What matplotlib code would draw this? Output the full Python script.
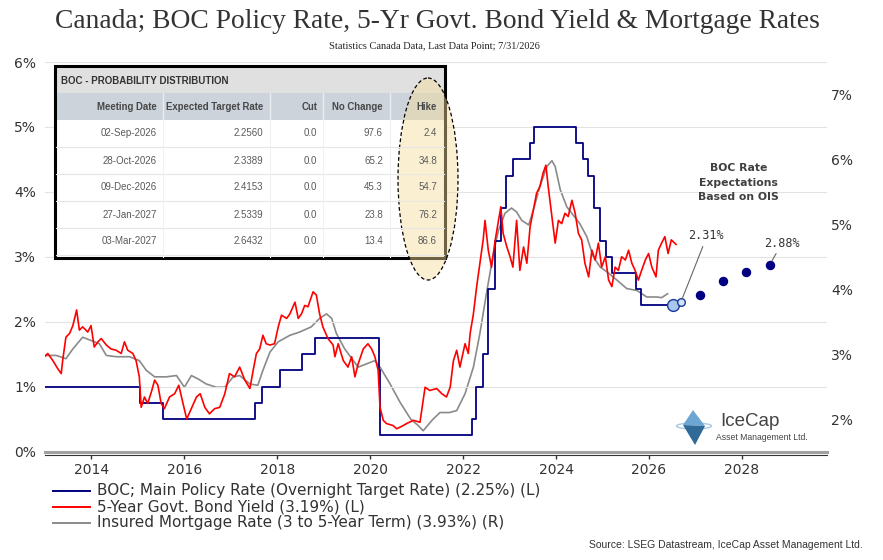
import matplotlib
matplotlib.use('Agg')
import matplotlib.pyplot as plt
from matplotlib.patches import Rectangle, Ellipse, Polygon

plt.rcParams['font.family'] = ['DejaVu Sans']

# BOC overnight target rate (step changes)
boc_t = [2013.0, 2015.05, 2015.54, 2017.53, 2017.68, 2018.05, 2018.53, 2018.82,
         2020.18, 2020.2, 2020.22, 2022.18, 2022.28, 2022.42, 2022.54, 2022.68,
         2022.82, 2022.93, 2023.07, 2023.43, 2023.53, 2024.43, 2024.57, 2024.68,
         2024.82, 2024.95, 2025.08, 2025.2, 2025.71, 2025.83, 2026.55]
boc_r = [1.0, 0.75, 0.5, 0.75, 1.0, 1.25, 1.5, 1.75,
         1.25, 0.75, 0.25, 0.5, 1.0, 1.5, 2.5, 3.25,
         3.75, 4.25, 4.5, 4.75, 5.0, 4.75, 4.5, 4.25,
         3.75, 3.25, 3.0, 2.75, 2.5, 2.25, 2.25]

# 5-year Govt. bond yield (left axis)
bond_t = [2012.99, 2013.06, 2013.17, 2013.27, 2013.35, 2013.38, 2013.45, 2013.53, 2013.6, 2013.68,
          2013.74, 2013.81, 2013.92, 2013.99, 2014.06, 2014.14, 2014.21, 2014.32, 2014.42, 2014.53,
          2014.64, 2014.71, 2014.78, 2014.89, 2014.96, 2015.03, 2015.07, 2015.14, 2015.21, 2015.29,
          2015.36, 2015.43, 2015.5, 2015.57, 2015.68, 2015.79, 2015.88, 2015.97, 2016.05, 2016.15,
          2016.26, 2016.34, 2016.44, 2016.54, 2016.65, 2016.76, 2016.87, 2016.97, 2017.08, 2017.19,
          2017.3, 2017.41, 2017.48, 2017.55, 2017.62, 2017.69, 2017.76, 2017.84, 2017.94, 2018.02,
          2018.09, 2018.2, 2018.27, 2018.38, 2018.45, 2018.52, 2018.59, 2018.66, 2018.77, 2018.84,
          2018.91, 2018.98, 2019.09, 2019.2, 2019.24, 2019.31, 2019.42, 2019.52, 2019.6, 2019.67,
          2019.74, 2019.85, 2019.95, 2020.03, 2020.1, 2020.17, 2020.21, 2020.28, 2020.35, 2020.49,
          2020.57, 2020.71, 2020.78, 2020.93, 2021.07, 2021.18, 2021.28, 2021.43, 2021.54, 2021.64,
          2021.72, 2021.79, 2021.86, 2021.93, 2022.04, 2022.11, 2022.15, 2022.22, 2022.29, 2022.36,
          2022.43, 2022.47, 2022.54, 2022.61, 2022.69, 2022.76, 2022.81, 2022.86, 2022.94, 2023.01,
          2023.07, 2023.15, 2023.22, 2023.3, 2023.37, 2023.44, 2023.51, 2023.58, 2023.65, 2023.72,
          2023.78, 2023.83, 2023.91, 2023.98, 2024.05, 2024.12, 2024.19, 2024.26, 2024.34, 2024.41,
          2024.48, 2024.55, 2024.62, 2024.7, 2024.77, 2024.84, 2024.91, 2024.98, 2025.06, 2025.13,
          2025.2, 2025.27, 2025.34, 2025.41, 2025.49, 2025.56, 2025.63, 2025.7, 2025.77, 2025.84,
          2025.92, 2025.99, 2026.06, 2026.15, 2026.2, 2026.27, 2026.34, 2026.41, 2026.48, 2026.55,
          2026.58]
bond_v = [1.46, 1.51, 1.40, 1.28, 1.20, 1.40, 1.76, 1.82, 1.94, 2.18,
          1.87, 1.92, 1.84, 1.94, 1.61, 1.69, 1.74, 1.64, 1.58, 1.56,
          1.51, 1.69, 1.56, 1.51, 1.40, 1.15, 0.68, 0.84, 0.74, 0.92,
          1.10, 1.02, 0.74, 0.66, 0.84, 0.89, 1.02, 0.74, 0.50, 0.66,
          0.84, 0.89, 0.68, 0.58, 0.66, 0.68, 0.89, 1.20, 1.15, 1.30,
          1.10, 0.97, 1.25, 1.51, 1.58, 1.79, 1.66, 1.64, 1.66, 1.92,
          2.10, 2.05, 2.12, 2.30, 2.05, 2.12, 2.25, 2.23, 2.46, 2.41,
          2.12, 1.92, 1.74, 1.64, 1.46, 1.66, 1.40, 1.30, 1.46, 1.15,
          1.35, 1.58, 1.66, 1.58, 1.46, 1.25, 0.68, 0.48, 0.43, 0.40,
          0.35, 0.40, 0.43, 0.48, 0.45, 0.99, 0.94, 0.97, 0.89, 0.84,
          0.99, 1.40, 1.56, 1.30, 1.66, 1.51, 1.82, 2.12, 2.54, 2.90,
          3.26, 3.56, 3.10, 2.84, 3.26, 3.56, 3.77, 3.36, 3.15, 3.00,
          2.84, 3.56, 2.79, 3.15, 2.90, 3.46, 3.72, 3.98, 4.08, 4.29,
          4.41, 4.08, 3.62, 3.21, 3.56, 3.51, 3.67, 3.62, 3.87, 3.67,
          3.36, 3.26, 2.90, 2.69, 3.10, 2.95, 3.21, 2.84, 3.00, 2.64,
          2.54, 2.84, 2.79, 3.00, 2.95, 3.10, 2.90, 2.79, 2.64, 2.79,
          2.95, 3.05, 2.84, 2.69, 3.10, 3.21, 3.31, 3.05, 3.26, 3.21,
          3.19]

# insured mortgage rate, 3 to 5-year term (right axis)
mort_t = [2012.99, 2013.24, 2013.45, 2013.6, 2013.81, 2013.99, 2014.17, 2014.32, 2014.53, 2014.82,
          2015.03, 2015.18, 2015.36, 2015.61, 2015.83, 2016.0, 2016.15, 2016.29, 2016.47, 2016.69,
          2016.87, 2017.05, 2017.19, 2017.41, 2017.58, 2017.69, 2017.84, 2018.02, 2018.27, 2018.48,
          2018.73, 2018.91, 2019.06, 2019.17, 2019.27, 2019.45, 2019.74, 2019.92, 2020.1, 2020.21,
          2020.42, 2020.64, 2020.87, 2021.03, 2021.14, 2021.34, 2021.5, 2021.7, 2021.86, 2022.04,
          2022.22, 2022.36, 2022.5, 2022.65, 2022.76, 2022.9, 2023.04, 2023.15, 2023.26, 2023.41,
          2023.51, 2023.65, 2023.8, 2023.91, 2023.98, 2024.09, 2024.23, 2024.37, 2024.51, 2024.66,
          2024.8, 2024.95, 2025.09, 2025.31, 2025.52, 2025.74, 2025.95, 2026.17, 2026.27, 2026.4]
mort_v = [2.98, 2.98, 2.93, 3.08, 3.26, 3.21, 3.16, 2.98, 2.96, 2.96,
          2.90, 2.75, 2.65, 2.65, 2.67, 2.49, 2.67, 2.62, 2.54, 2.49,
          2.49, 2.65, 2.67, 2.54, 2.52, 2.75, 3.03, 3.19, 3.29, 3.34,
          3.42, 3.55, 3.62, 3.55, 3.32, 3.08, 2.80, 2.85, 2.90, 2.80,
          2.55, 2.26, 2.00, 1.90, 1.82, 1.99, 2.10, 2.10, 2.13, 2.39,
          2.80, 3.32, 3.93, 4.55, 4.91, 5.17, 5.25, 5.19, 5.06, 4.99,
          5.22, 5.58, 5.89, 5.98, 5.89, 5.53, 5.27, 5.14, 5.01, 4.81,
          4.50, 4.34, 4.27, 4.14, 4.01, 3.98, 3.88, 3.88, 3.87, 3.93]

# OIS implied path
now_t = [2026.52, 2026.69]
now_r = [2.25, 2.31]
exp_t = [2027.10, 2027.59, 2028.09, 2028.60]
exp_r = [2.41, 2.62, 2.76, 2.88]

# BOC probability table
tbl_cols = ['Meeting Date', 'Expected Target Rate', 'Cut', 'No Change', 'Hike']
tbl_dates = ['02-Sep-2026', '28-Oct-2026', '09-Dec-2026', '27-Jan-2027', '03-Mar-2027']
tbl_rate = ['2.2560', '2.3389', '2.4153', '2.5339', '2.6432']
tbl_cut = ['0.0', '0.0', '0.0', '0.0', '0.0']
tbl_nochg = ['97.6', '65.2', '45.3', '23.8', '13.4']
tbl_hike = ['2.4', '34.8', '54.7', '76.2', '86.6']

years = [2014, 2016, 2018, 2020, 2022, 2024, 2026, 2028]

W, H = 883, 560
fig = plt.figure(figsize=(W / 100, H / 100), dpi=100)
ax = fig.add_axes([45 / W, 1 - 451.5 / H, (827 - 45) / W, (451.5 - 62) / H])
ax2 = ax.twinx()
ax.set_zorder(ax2.get_zorder() + 1)
ax.patch.set_visible(False)

ax2.plot(mort_t, mort_v, color='#8a8a8a', lw=1.2)
ax.step(boc_t, boc_r, where='post', color='#000080', lw=1.3)
ax.plot(bond_t, bond_v, color='#ff0000', lw=1.2)
ax.plot(exp_t, exp_r, 'o', color='#000080', ms=5.8, ls='none')
ax.plot(now_t[0], now_r[0], 'o', mfc='#a9c6ee', mec='#1a3a9a', mew=1.0, ms=8.5)
ax.plot(now_t[1], now_r[1], 'o', mfc='#d3e3f7', mec='#1a3a9a', mew=1.0, ms=5.5)

ax.annotate('2.31%', xy=(now_t[1], now_r[1]), xytext=(2027.23, 3.32),
            ha='center', va='center', fontsize=8.5, family='DejaVu Sans Mono', color='#333333',
            arrowprops=dict(arrowstyle='-', color='#666666', lw=0.8, relpos=(0.45, 0.0),
                            shrinkA=1, shrinkB=3))
ax.annotate('2.88%', xy=(exp_t[-1], exp_r[-1]), xytext=(2028.86, 3.21),
            ha='center', va='center', fontsize=8.5, family='DejaVu Sans Mono', color='#333333',
            arrowprops=dict(arrowstyle='-', color='#666666', lw=0.8, relpos=(0.4, 0.0),
                            shrinkA=1, shrinkB=3))
ax.text(2027.92, 4.14, 'BOC Rate\nExpectations\nBased on OIS', ha='center', va='center',
        fontsize=7.8, fontweight='bold', color='#404040', linespacing=1.55)

ax.set_xlim(2013.0, 2029.83)
ax.set_ylim(0, 6)
ax2.set_ylim(1.5, 7.5)
ax.set_xticks(years)
ax.set_xticklabels([str(y) for y in years])
ax.set_yticks(range(0, 7))
ax.set_yticklabels([f'{v}%' for v in range(0, 7)])
ax2.set_yticks(range(2, 8))
ax2.set_yticklabels([f'{v}%' for v in range(2, 8)])

ax.grid(axis='y', color='#e3e3e3', lw=0.8)
ax.grid(axis='x', visible=False)
ax.set_axisbelow(True)
ax.axhline(0, color='#a0a0a0', lw=2.2, clip_on=False, zorder=1)

for s in ['top', 'left', 'right']:
    ax.spines[s].set_visible(False)
for s in ax2.spines.values():
    s.set_visible(False)
ax.spines['bottom'].set_position(('outward', 2.5))
ax.spines['bottom'].set_color('#333333')
ax.tick_params(axis='x', direction='out', length=3, width=1, color='#333333',
               labelsize=10, labelcolor='#333333', pad=3)
ax.tick_params(axis='y', length=0, pad=6.5, labelsize=10, labelcolor='#333333')
ax2.tick_params(axis='y', length=0, pad=3, labelsize=10, labelcolor='#333333')

# overlay in pixel coordinates for table, legend, logo
ov = fig.add_axes([0, 0, 1, 1], zorder=10)
ov.set_xlim(0, W)
ov.set_ylim(H, 0)
ov.axis('off')

ov.text(437, 21, 'Canada; BOC Policy Rate, 5-Yr Govt. Bond Yield & Mortgage Rates',
        ha='center', va='center', fontsize=19.8, family='Liberation Serif', color='#333333')
ov.text(434, 46, 'Statistics Canada Data, Last Data Point; 7/31/2026',
        ha='center', va='center', fontsize=7.5, family='Liberation Serif', color='#222222')

# table
ov.add_patch(Rectangle((55, 66), 390, 192, facecolor='white', edgecolor='none'))
ov.add_patch(Rectangle((55, 66), 390, 27, facecolor='#e0e0e0', edgecolor='none'))
ov.add_patch(Rectangle((55, 93), 390, 27, facecolor='#ccd3da', edgecolor='none'))
for yy in [147, 174, 201, 228, 255]:
    ov.plot([56, 444], [yy, yy], color='#e6e6e6', lw=0.8)
for xx in [163, 270, 323, 390]:
    ov.plot([xx, xx], [93, 120], color='#e9edf0', lw=1.0)
    ov.plot([xx, xx], [120, 257], color='#f1f1f1', lw=0.8)
ov.text(61, 80.5, 'BOC - PROBABILITY DISTRIBUTION', ha='left', va='center', fontsize=7.0,
        fontweight='bold', family='Liberation Sans', color='#333333')
col_x = [157, 263, 317, 383, 437]
for cx, c in zip(col_x, tbl_cols):
    ov.text(cx, 107, c, ha='right', va='center', fontsize=6.9, fontweight='bold',
            family='Liberation Sans', color='#474747')
for i in range(len(tbl_dates)):
    ry = 133.5 + 27 * i
    row = [tbl_dates[i], tbl_rate[i], tbl_cut[i], tbl_nochg[i], tbl_hike[i]]
    for cx, v in zip(col_x, row):
        ov.text(cx, ry, v, ha='right', va='center', fontsize=7.0,
                family='Liberation Sans', color='#5a5a5a')
ov.add_patch(Rectangle((55, 66), 390, 192, facecolor='none', edgecolor='black', lw=2.2))

ov.add_patch(Ellipse((428, 179), 60, 202, facecolor='#f5dc9a', edgecolor='none', alpha=0.45))
ov.add_patch(Ellipse((428, 179), 60, 202, facecolor='none', edgecolor='black', lw=0.9,
                     ls=(0, (3, 2))))

# legend
leg = [('BOC; Main Policy Rate (Overnight Target Rate) (2.25%) (L)', '#000080'),
       ('5-Year Govt. Bond Yield (3.19%) (L)', '#ff0000'),
       ('Insured Mortgage Rate (3 to 5-Year Term) (3.93%) (R)', '#8a8a8a')]
for i, (lab, col) in enumerate(leg):
    ly = 491 + 16 * i
    ov.plot([53, 90], [ly, ly], color=col, lw=1.4)
    ov.text(97, ly, lab, ha='left', va='center', fontsize=11, color='#333333')

ov.text(863, 545, 'Source: LSEG Datastream, IceCap Asset Management Ltd.', ha='right',
        va='center', fontsize=7.5, family='Liberation Sans', color='#333333')

# logo
ov.add_patch(Ellipse((694, 426), 35, 6, facecolor='none', edgecolor='#a8c8e2', lw=1.0))
ov.add_patch(Polygon([(693, 410), (705, 426), (683, 425)], closed=True,
                     facecolor='#6ea6d3', edgecolor='none'))
ov.add_patch(Polygon([(683, 425), (705, 426), (695, 445)], closed=True,
                     facecolor='#2f6a98', edgecolor='none'))
ov.text(720, 422, 'IceCap', ha='left', va='center', fontsize=13.5,
        family='Liberation Sans', color='#444444')
ov.text(716, 437, 'Asset Management Ltd.', ha='left', va='center', fontsize=6.2,
        family='Liberation Sans', color='#444444')

fig.savefig('out.png', dpi=100)
